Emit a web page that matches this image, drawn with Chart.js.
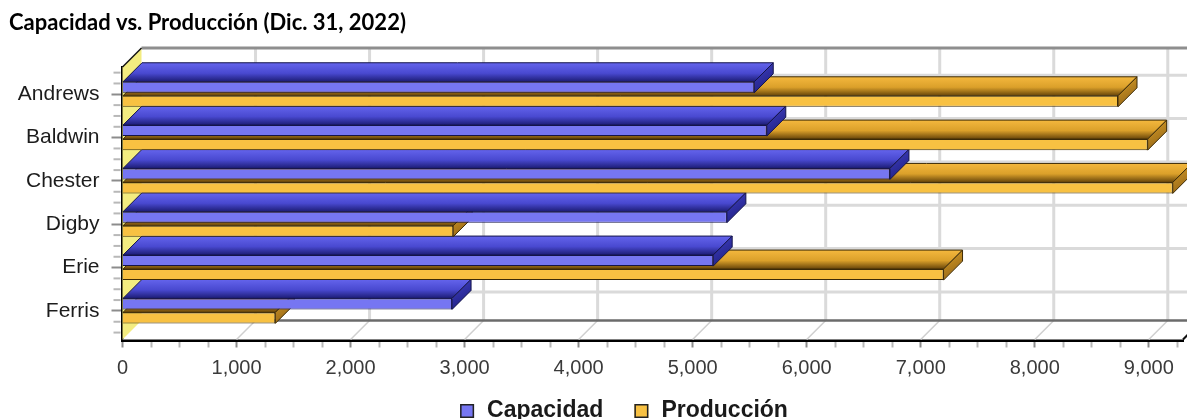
<!DOCTYPE html>
<html lang="es">
<head>
<meta charset="utf-8">
<title>Capacidad vs. Producción</title>
<script src="https://cdn.jsdelivr.net/npm/chart.js@4.4.1/dist/chart.umd.min.js"></script>
<style>
  html, body { margin: 0; padding: 0; background: #fff; }
  #wrap { width: 1187px; height: 419px; position: relative; }
</style>
</head>
<body>
<div id="wrap"><canvas id="chart"></canvas></div>
<script>
// ---- data ----
const categories = ['Andrews', 'Baldwin', 'Chester', 'Digby', 'Erie', 'Ferris'];
const capacidad  = [5540, 5650, 6730, 5300, 5180, 2890];
const produccion = [8730, 8990, 9210, 2900, 7200, 1340];
const seriesNames = ['Capacidad', 'Producción'];
const xTickLabels = ['0', '1,000', '2,000', '3,000', '4,000', '5,000', '6,000', '7,000', '8,000', '9,000'];
const xTickStep = 1000;
const titleText = 'Capacidad vs. Producción (Dic. 31, 2022)';

// ---- 3D look ----
const DX = 19, DY = 19;          // depth offset of the box (right / up)
const faceStyles = [
  { // Capacidad
    front: '#7676f2', edge: '#14144a',
    top: [[0, '#6464ec'], [0.55, '#4949d0'], [1, '#1c1c74']],
    end: [[0, '#4141c4'], [1, '#1a1a78']]
  },
  { // Producción
    front: '#f8c142', edge: '#3d2b06',
    top: [[0, '#f4b83e'], [0.55, '#dba02a'], [1, '#654309']],
    end: [[0, '#d9a02a'], [1, '#8a5c12']]
  }
];

function grad(ctx, x0, y0, x1, y1, stops) {
  const g = ctx.createLinearGradient(x0, y0, x1, y1);
  stops.forEach(s => g.addColorStop(s[0], s[1]));
  return g;
}

function poly(ctx, pts) {
  ctx.beginPath();
  ctx.moveTo(pts[0][0], pts[0][1]);
  for (let i = 1; i < pts.length; i++) ctx.lineTo(pts[i][0], pts[i][1]);
  ctx.closePath();
}

function line(ctx, x0, y0, x1, y1) {
  ctx.beginPath(); ctx.moveTo(x0, y0); ctx.lineTo(x1, y1); ctx.stroke();
}

// back wall, floor, left wall and the top / end faces of every bar
const box3d = {
  id: 'box3d',
  beforeDatasetsDraw(chart) {
    const { ctx, chartArea: a, scales: { x, y } } = chart;
    const L = a.left, R = a.right, T = a.top, B = a.bottom;
    ctx.save();

    // back wall
    ctx.fillStyle = '#ffffff';
    ctx.fillRect(L + DX, T - DY, R - L, B - T);
    ctx.strokeStyle = '#dadada';
    ctx.lineWidth = 3;
    for (let v = xTickStep; v <= x.max; v += xTickStep) {
      const px = x.getPixelForValue(v) + DX;
      line(ctx, px, T - DY, px, B - DY);
    }
    categories.forEach((c, i) => {
      const py = y.getPixelForValue(i) - DY;
      line(ctx, L + DX, py, R + DX, py);
    });

    // floor
    ctx.fillStyle = '#ffffff';
    poly(ctx, [[L, B], [R, B], [R + DX, B - DY], [L + DX, B - DY]]);
    ctx.fill();
    ctx.strokeStyle = '#cfcfcf';
    ctx.lineWidth = 1.5;
    for (let v = xTickStep; v <= x.max; v += xTickStep) {
      const px = x.getPixelForValue(v);
      line(ctx, px, B, px + DX, B - DY);
    }
    ctx.strokeStyle = '#6b6b6b';
    ctx.lineWidth = 2.5;
    line(ctx, L + DX, B - DY, R + DX, B - DY);
    ctx.strokeStyle = '#8e8e8e';
    ctx.lineWidth = 3;
    line(ctx, L + DX, T - DY, R + DX, T - DY);
    ctx.strokeStyle = '#111';
    ctx.lineWidth = 2;
    line(ctx, R, B, R + DX, B - DY);

    // left wall
    ctx.fillStyle = '#f3ec80';
    poly(ctx, [[L, T], [L + DX, T - DY], [L + DX, B - DY], [L, B]]);
    ctx.fill();
    ctx.strokeStyle = '#111';
    ctx.lineWidth = 1.5;
    line(ctx, L, T, L + DX, T - DY);

    // bar faces, lowest bar first so upper bars cover what lies behind them
    const nSets = chart.data.datasets.length;
    for (let i = categories.length - 1; i >= 0; i--) {
      for (let d = nSets - 1; d >= 0; d--) {
        const bar = chart.getDatasetMeta(d).data[i];
        if (!bar) continue;
        const st = faceStyles[d];
        const p = bar.getProps(['x', 'y', 'base', 'height'], true);
        const x0 = Math.min(p.base, p.x), x1 = Math.max(p.base, p.x);
        const t = p.y - p.height / 2, b = p.y + p.height / 2;
        ctx.lineWidth = 1;
        ctx.strokeStyle = st.edge;
        // top face
        poly(ctx, [[x0, t], [x1, t], [x1 + DX, t - DY], [x0 + DX, t - DY]]);
        ctx.fillStyle = grad(ctx, 0, t - DY, 0, t, st.top);
        ctx.fill();
        ctx.stroke();
        // end face
        poly(ctx, [[x1, t], [x1 + DX, t - DY], [x1 + DX, b - DY], [x1, b]]);
        ctx.fillStyle = grad(ctx, x1, t - DY, x1 + DX, b, st.end);
        ctx.fill();
        ctx.stroke();
      }
    }
    ctx.restore();
  },
  // minor tick marks on the category axis (quarter steps between the labels)
  afterDraw(chart) {
    const { ctx, chartArea: a, scales: { y } } = chart;
    ctx.save();
    ctx.strokeStyle = '#b8b8b8';
    ctx.lineWidth = 2;
    for (let v = -0.5; v <= categories.length - 0.5; v += 0.25) {
      if (Number.isInteger(v)) continue;
      const py = y.getPixelForValue(v);
      line(ctx, a.left - 9, py, a.left - 2, py);
    }
    ctx.restore();
  }
};

// legend row under the axis
const legendRow = {
  id: 'legendRow',
  afterDraw(chart) {
    const ctx = chart.ctx;
    const box = 14, gap = 13, itemGap = 31, cy = 411, centerX = 624;
    ctx.save();
    ctx.font = 'bold 23px "Liberation Sans", Arial, sans-serif';
    const items = chart.data.datasets.map((ds, i) => ({
      text: ds.label, fill: faceStyles[i].front,
      w: ctx.measureText(ds.label).width
    }));
    let total = 0;
    items.forEach((it, i) => { total += box + gap + it.w + (i ? itemGap : 0); });
    let cx = centerX - total / 2;
    ctx.textBaseline = 'middle';
    ctx.textAlign = 'left';
    items.forEach((it, i) => {
      if (i) cx += itemGap;
      ctx.fillStyle = it.fill;
      ctx.fillRect(cx, cy - box / 2, box, box);
      ctx.strokeStyle = '#222';
      ctx.lineWidth = 1.5;
      ctx.strokeRect(cx + 0.75, cy - box / 2 + 0.75, box - 1.5, box - 1.5);
      cx += box + gap;
      ctx.fillStyle = '#1a1a1a';
      ctx.fillText(it.text, cx, cy);
      cx += it.w;
    });
    ctx.restore();
  }
};

const toPoints = arr => arr.map((v, i) => ({ x: v, y: i }));

new Chart(document.getElementById('chart'), {
  type: 'bar',
  data: {
    datasets: [
      { label: seriesNames[0], data: toPoints(capacidad),
        backgroundColor: faceStyles[0].front, borderColor: faceStyles[0].edge, borderWidth: 1 },
      { label: seriesNames[1], data: toPoints(produccion),
        backgroundColor: faceStyles[1].front, borderColor: faceStyles[1].edge, borderWidth: 1 }
    ]
  },
  options: {
    indexAxis: 'y',
    responsive: true,
    maintainAspectRatio: false,
    animation: false,
    categoryPercentage: 0.647,
    barPercentage: 0.786,
    layout: { padding: { left: 9, right: 4, top: 0, bottom: 0 } },
    plugins: {
      legend: { display: false },
      tooltip: { enabled: false },
      title: {
        display: true,
        text: titleText,
        align: 'start',
        color: '#000',
        font: { family: 'Lato, "Liberation Sans", sans-serif', size: 22, weight: 'bold', lineHeight: 1.2 },
        padding: { top: 10, bottom: 30.6 }
      }
    },
    scales: {
      x: {
        type: 'linear',
        min: 0,
        max: 9300,
        z: 1,
        afterBuildTicks(scale) {
          const t = [];
          for (let v = 0; v < scale.max; v += xTickStep / 4) t.push({ value: v });
          scale.ticks = t;
        },
        afterFit(scale) { scale.height = 79.5; },
        border: { display: true, color: '#000', width: 4 },
        grid: {
          drawOnChartArea: false,
          drawTicks: true,
          tickLength: 8,
          tickWidth: 2,
          tickColor: c => (c.tick && c.tick.value % xTickStep === 0) ? '#8c8c8c' : '#b8b8b8'
        },
        ticks: {
          autoSkip: false,
          maxRotation: 0,
          padding: 9,
          color: '#3a3a3a',
          font: { family: '"Liberation Sans", Arial, sans-serif', size: 20 },
          callback: v => (v % xTickStep === 0 ? xTickLabels[v / xTickStep] : '')
        }
      },
      y: {
        type: 'linear',
        reverse: true,
        offset: false,
        min: -0.63,
        max: 5.66,
        z: 1,
        afterBuildTicks(scale) {
          scale.ticks = categories.map((c, i) => ({ value: i }));
        },
        afterFit(scale) { scale.width = 113.5; },
        border: { display: true, color: '#000', width: 3 },
        grid: {
          offset: false,
          drawOnChartArea: false,
          drawTicks: true,
          tickLength: 11,
          tickWidth: 2,
          tickColor: '#8c8c8c'
        },
        ticks: {
          autoSkip: false,
          padding: 12,
          color: '#1c1c1c',
          font: { family: '"Liberation Sans", Arial, sans-serif', size: 21 },
          callback: v => (Number.isInteger(v) ? categories[v] : '')
        }
      }
    }
  },
  plugins: [box3d, legendRow]
});
</script>
</body>
</html>
